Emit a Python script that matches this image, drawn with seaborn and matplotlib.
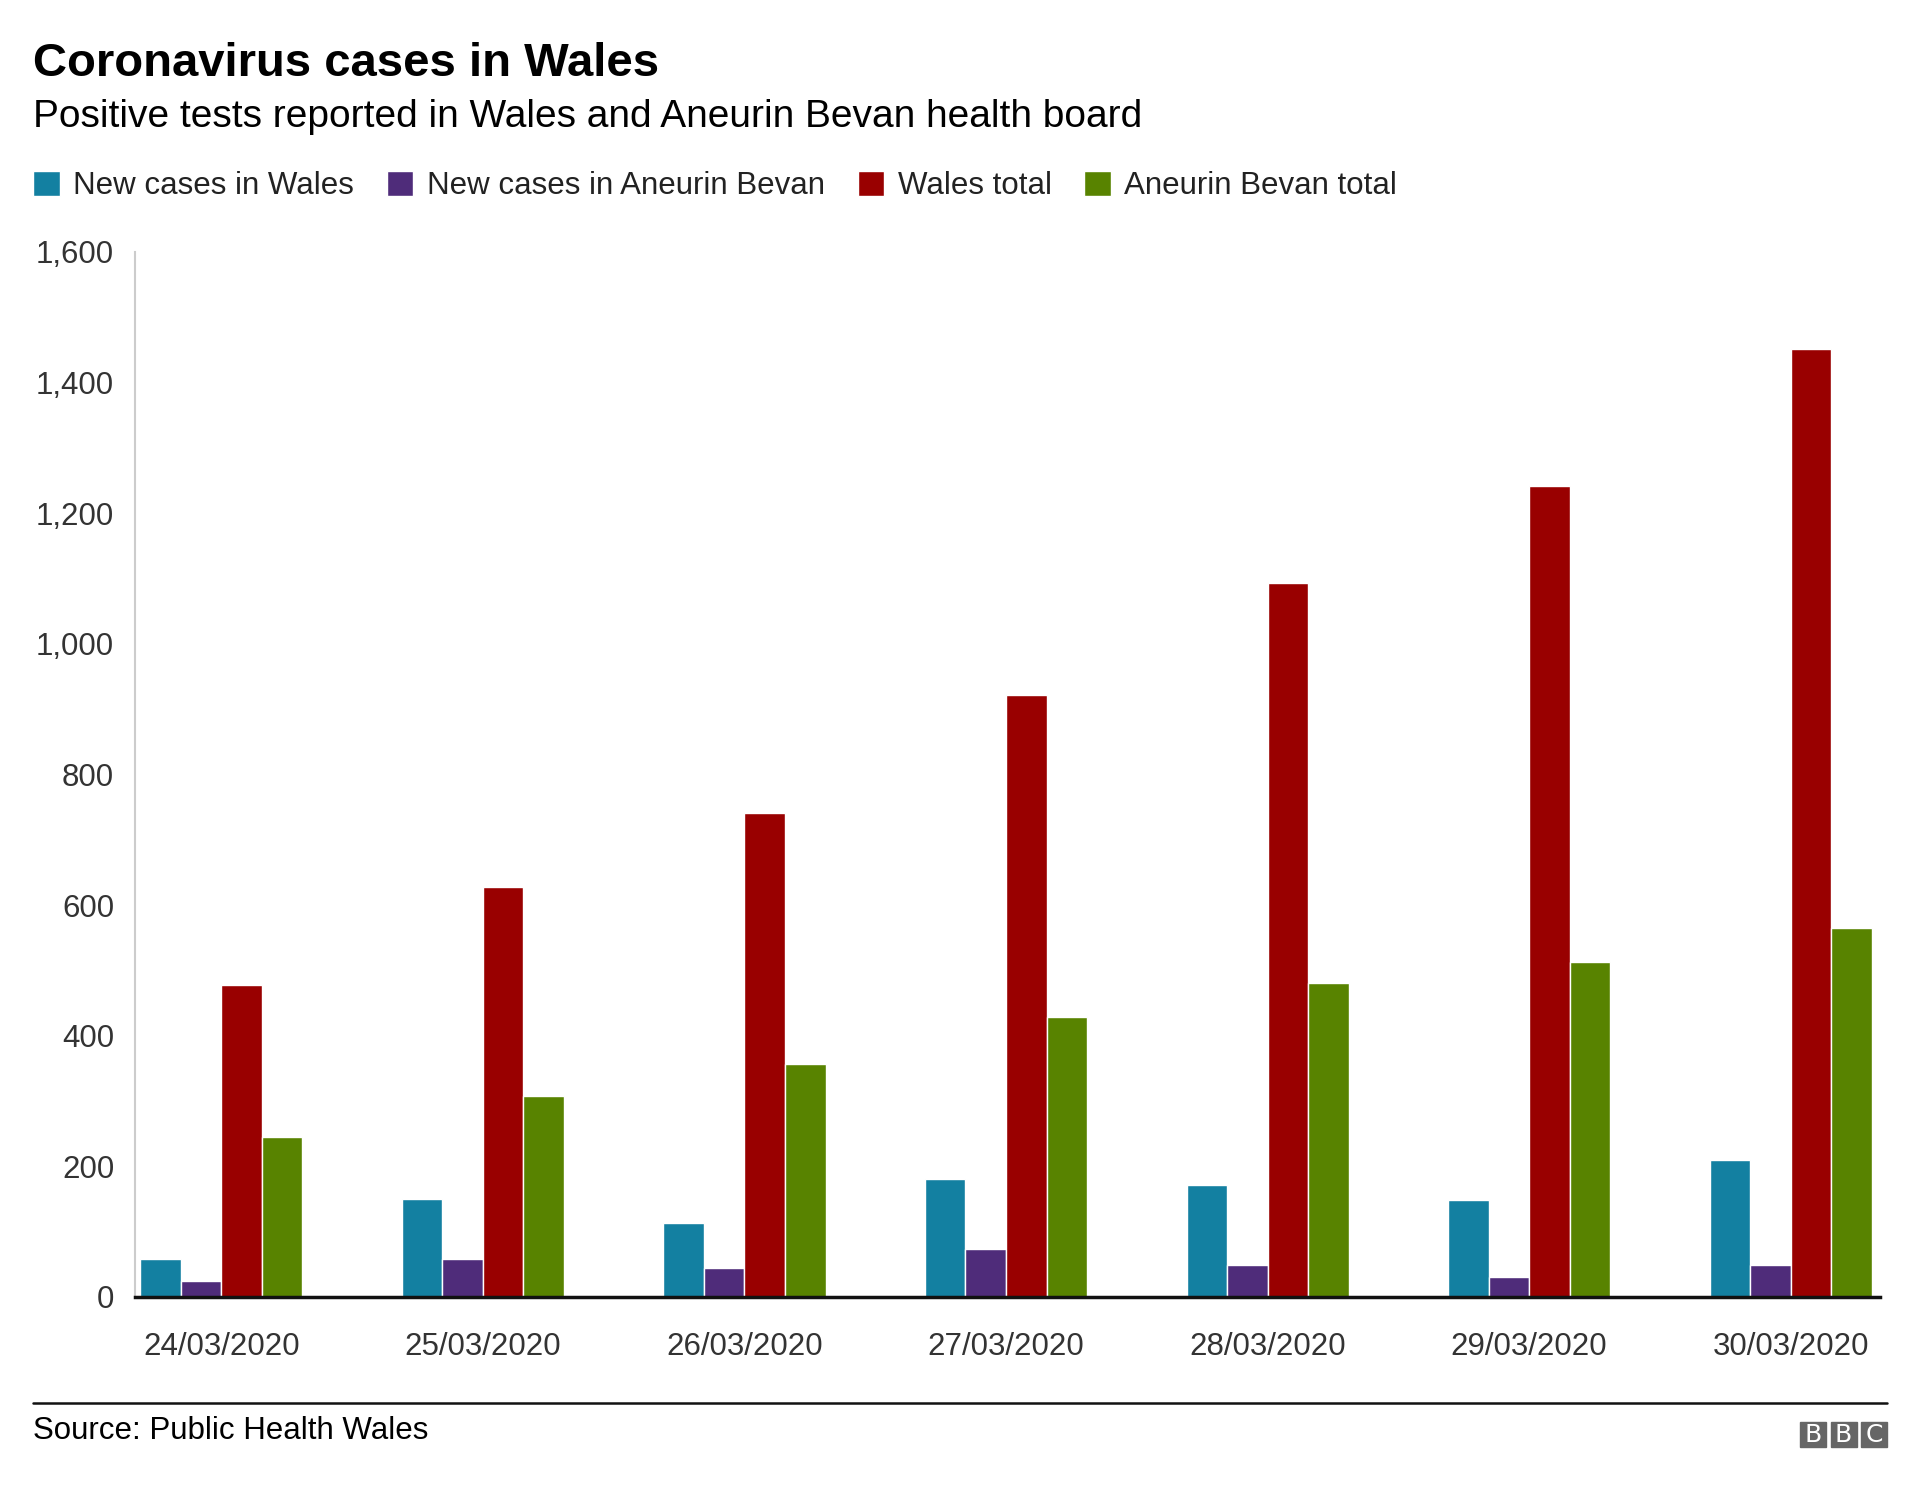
import numpy as np
import pandas as pd
import matplotlib.pyplot as plt
import seaborn as sns
from matplotlib.patches import Rectangle

dates = ['24/03/2020', '25/03/2020', '26/03/2020', '27/03/2020',
         '28/03/2020', '29/03/2020', '30/03/2020']
new_wales = [58, 150, 113, 180, 172, 148, 210]
new_ab = [24, 58, 45, 73, 49, 30, 49]
wales_total = [478, 628, 741, 921, 1093, 1241, 1451]
ab_total = [245, 308, 356, 429, 481, 513, 565]

series = ['New cases in Wales', 'New cases in Aneurin Bevan', 'Wales total', 'Aneurin Bevan total']
colors = ['#1380A1', '#4F2C7A', '#990000', '#588300']

df = pd.DataFrame({
    'date': dates * 4,
    'series': np.repeat(series, len(dates)),
    'value': new_wales + new_ab + wales_total + ab_total,
})

sns.set_style('white')
plt.rcParams['font.family'] = ['Liberation Sans', 'DejaVu Sans']

fig = plt.figure(figsize=(19.2, 14.89), dpi=100)
ax = fig.add_axes([0.0703, 0.129, 0.9087, 0.7018])

sns.barplot(data=df, x='date', y='value', hue='series', palette=colors,
            width=0.62, edgecolor='white', linewidth=1, saturation=1, ax=ax)

ax.set_ylim(0, 1600)
ax.set_xlim(-0.33, 6.34)
ax.set_yticks(range(0, 1601, 200))
ax.set_yticklabels([f'{v:,}' for v in range(0, 1601, 200)])
ax.set_xlabel('')
ax.set_ylabel('')
ax.tick_params(axis='y', length=0, pad=15, labelsize=22.5, labelcolor='#333333')
ax.tick_params(axis='x', length=0, pad=25, labelsize=22.5, labelcolor='#333333')

for s in ['top', 'right']:
    ax.spines[s].set_visible(False)
ax.spines['left'].set_color('#cccccc')
ax.spines['left'].set_linewidth(1.5)
ax.spines['bottom'].set_color('#111111')
ax.spines['bottom'].set_linewidth(2.5)

handles, labels = ax.get_legend_handles_labels()
ax.legend_.remove()
fig.legend(handles, labels, loc='center left', bbox_to_anchor=(0.0172, 1 - 186 / 1489),
           ncol=4, frameon=False, fontsize=22.5, handlelength=0.85, handleheight=0.85,
           handletextpad=0.43, columnspacing=1.05, borderpad=0, borderaxespad=0,
           labelcolor='#222222')

fig.text(0.0172, 1 - 64 / 1489, 'Coronavirus cases in Wales', fontsize=34,
         fontweight='bold', va='center', ha='left', color='black')
fig.text(0.0172, 1 - 117 / 1489, 'Positive tests reported in Wales and Aneurin Bevan health board',
         fontsize=28, va='center', ha='left', color='black')

fig.add_artist(plt.Line2D([0.0172, 0.983], [1 - 1403 / 1489] * 2, color='#111111', lw=1.8))
fig.text(0.0172, 1 - 1431 / 1489, 'Source: Public Health Wales', fontsize=22.5,
         va='center', ha='left', color='black')

# BBC logo blocks
for i, letter in enumerate('BBC'):
    x0 = (1800 + i * 30.5) / 1920
    fig.add_artist(Rectangle((x0, 1 - 1447 / 1489), 26 / 1920, 25 / 1489,
                             transform=fig.transFigure, color='#666666'))
    fig.text(x0 + 13 / 1920, 1 - 1434.5 / 1489, letter, fontsize=18, color='white',
             ha='center', va='center', family='DejaVu Sans')

plt.savefig('out.png', dpi=100)
